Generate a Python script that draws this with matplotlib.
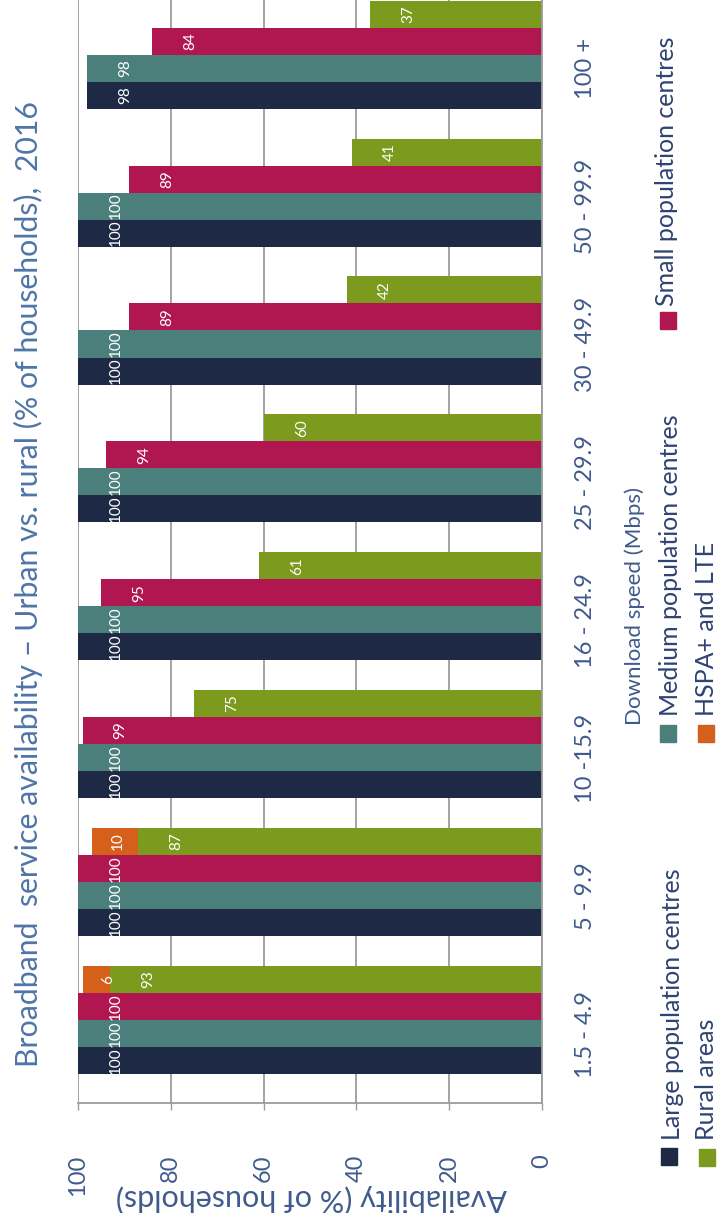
import matplotlib
matplotlib.use('Agg')
import matplotlib.pyplot as plt
from matplotlib.patches import Rectangle

speeds = ['1.5 - 4.9', '5 - 9.9', '10 -15.9', '16 - 24.9', '25 - 29.9',
          '30 - 49.9', '50 - 99.9', '100 +']
large = [100, 100, 100, 100, 100, 100, 100, 98]
medium = [100, 100, 100, 100, 100, 100, 100, 98]
small = [100, 100, 99, 95, 94, 89, 89, 84]
rural = [93, 87, 75, 61, 60, 42, 41, 37]
hspa = [6, 10, 0, 0, 0, 0, 0, 0]

c_large = '#1e2a45'
c_medium = '#4a7f7c'
c_small = '#b0164f'
c_rural = '#7b9a1e'
c_hspa = '#d4601c'
c_grid = '#9c9c9c'
c_title = '#4f74a8'
c_tick = '#3f5a8c'
c_legend = '#2e4372'

plt.rcParams['font.family'] = ['Lato', 'DejaVu Sans']

W, H = 725, 1213
def fx(px):
    return px / W
def fy(py):
    return 1 - py / H

fig = plt.figure(figsize=(7.25, 12.13), dpi=100)
# chart is drawn turned a quarter turn: bars grow right to left
ax = fig.add_axes([fx(78), fy(1103), fx(542) - fx(78), fy(0) - fy(1103)])

h = 0.196
pos = list(range(len(speeds)))
y_rural = [p + 0.5 - h / 2 - 0.005 for p in pos]
y_small = [y - h for y in y_rural]
y_medium = [y - 2 * h for y in y_rural]
y_large = [y - 3 * h for y in y_rural]

ax.barh(y_large, large, height=h, color=c_large, label='Large population centres')
ax.barh(y_medium, medium, height=h, color=c_medium, label='Medium population centres')
ax.barh(y_small, small, height=h, color=c_small, label='Small population centres')
ax.barh(y_rural, rural, height=h, color=c_rural, label='Rural areas')
ax.barh(y_rural, hspa, height=h, left=rural, color=c_hspa, label='HSPA+ and LTE')

for ys, vals in [(y_large, large), (y_medium, medium), (y_small, small), (y_rural, rural)]:
    for y, v in zip(ys, vals):
        ax.text(v - 8.2, y, str(v), rotation=90, ha='center', va='center',
                color='white', fontsize=11)
for y, b, v in zip(y_rural, rural, hspa):
    if v > 0:
        ax.text(b + v - 5.5, y, str(v), rotation=90, ha='center', va='center',
                color='white', fontsize=11)

ax.set_xlim(100, 0)
ax.set_ylim(-0.5, len(speeds) - 0.5)
ax.set_xticks([0, 20, 40, 60, 80, 100])
ax.set_xticklabels(['0', '20', '40', '60', '80', '100'], rotation=90,
                   ha='center', va='top', fontsize=17, color=c_tick)
ax.tick_params(axis='x', direction='out', length=5, width=1, color=c_grid, pad=32)
ax.yaxis.tick_right()
ax.set_yticks(pos)
ax.set_yticklabels(speeds, rotation=90, va='center', fontsize=17, color=c_tick)
ax.tick_params(axis='y', length=0, pad=24)
ax.grid(axis='x', color=c_grid, linewidth=1.3)
ax.set_axisbelow(True)
for s in ['left', 'top']:
    ax.spines[s].set_visible(False)
for s in ['right', 'bottom']:
    ax.spines[s].set_color(c_grid)
    ax.spines[s].set_linewidth(1.3)

fig.text(fx(28), fy(584), 'Broadband  service availability \u2013 Urban vs. rural (% of households),  2016',
         rotation=90, ha='center', va='center', fontsize=21.8, color=c_title)
fig.text(fx(311), fy(1199), 'Availability (% of households)', rotation=180,
         ha='center', va='center', fontsize=22, color=c_tick)
fig.text(fx(635), fy(606), 'Download speed (Mbps)', rotation=90,
         ha='center', va='center', fontsize=16, color=c_tick)

# legend, two columns turned with the chart
legend_items = [
    ('Large population centres', c_large, 669, 1156, 673, 1140),
    ('Rural areas', c_rural, 707, 1157, 707, 1140),
    ('Medium population centres', c_medium, 668, 733, 670, 716),
    ('HSPA+ and LTE', c_hspa, 706, 733, 707, 716),
    ('Small population centres', c_small, 668, 320, 667, 306),
]
for name, col, sx, sy, tx, ty in legend_items:
    fig.patches.append(Rectangle((fx(sx - 8), fy(sy + 8.5)), 16 / W, 17 / H,
                                 transform=fig.transFigure, color=col))
    fig.text(fx(tx), fy(ty), name, rotation=90, ha='center', va='bottom',
             fontsize=18, color=c_legend)

fig.savefig('out.png', dpi=100)
